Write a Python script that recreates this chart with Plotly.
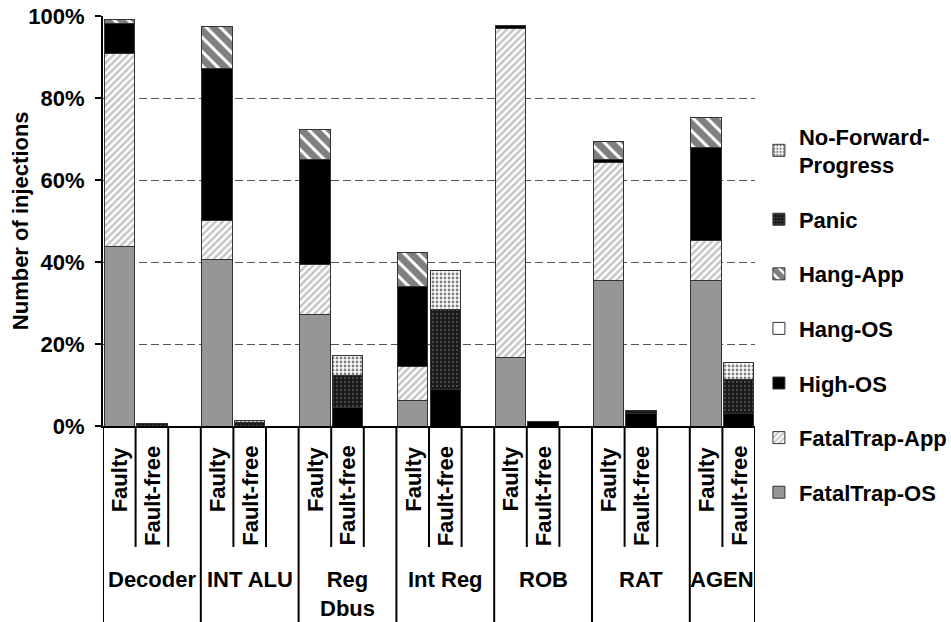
import plotly.graph_objects as go

# Hardware structures (top-level x groups); "Reg Dbus" wraps onto two lines
components = ["Decoder", "INT ALU", "Reg<br>Dbus", "Int Reg", "ROB", "RAT", "AGEN"]
runs = ["Faulty", "Fault-free"]

# Share of injections (%) per outcome, one value per component
faulty = {
    "FatalTrap-OS":  [43.7, 40.6, 27.2, 6.1, 16.7, 35.6, 35.4],
    "FatalTrap-App": [47.2, 9.5, 12.1, 8.5, 80.3, 28.7, 9.9],
    "High-OS":       [7.3, 37.0, 25.6, 19.5, 0.8, 0.7, 22.7],
    "Hang-OS":       [0, 0, 0, 0, 0, 0, 0],
    "Hang-App":      [1.0, 10.4, 7.3, 8.3, 0, 4.4, 7.2],
    "Panic":         [0, 0, 0, 0, 0, 0, 0],
    "No-Forward-Progress": [0, 0, 0, 0, 0, 0, 0],
}
fault_free = {
    "FatalTrap-OS":  [0, 0, 0, 0, 0, 0, 0],
    "FatalTrap-App": [0, 0, 0, 0, 0, 0, 0],
    "High-OS":       [0, 0, 4.5, 8.8, 1.2, 3.0, 3.1],
    "Hang-OS":       [0, 0, 0, 0, 0, 0, 0],
    "Hang-App":      [0, 0, 0, 0, 0, 0, 0],
    "Panic":         [0.6, 0.8, 7.7, 19.7, 0, 0.9, 8.3],
    "No-Forward-Progress": [0, 0.5, 4.9, 9.4, 0, 0, 4.0],
}

y_ticks = [0, 20, 40, 60, 80, 100]
y_tick_text = [f"{v}%" for v in y_ticks]
y_title = "Number of injections"

FONT = "Liberation Sans, Arial, sans-serif"
FS = 22
EDGE = "#333333"
bold = dict(family=FONT, size=FS, color="black", weight="bold")

styles = {
    "FatalTrap-OS": dict(color="#969696"),
    "FatalTrap-App": dict(color="white", pattern=dict(shape="/", fgcolor="#8c8c8c",
                                                       bgcolor="white", size=5, solidity=0.5)),
    "High-OS": dict(color="black"),
    "Hang-OS": dict(color="white"),
    "Hang-App": dict(color="white", pattern=dict(shape="\\", fgcolor="black",
                                                  bgcolor="white", size=10, solidity=0.7)),
    "Panic": dict(color="#222222", pattern=dict(shape=".", fgcolor="#9a9a9a",
                                                bgcolor="#1a1a1a", size=4, solidity=0.18)),
    "No-Forward-Progress": dict(color="white", pattern=dict(shape=".", fgcolor="black",
                                                            bgcolor="white", size=4, solidity=0.4)),
}
legend_names = {"No-Forward-Progress": "No-Forward-<br>Progress"}

# Each component occupies three slots: Faulty, Fault-free and a spacer
SLOTS = 3
n_slots = SLOTS * (len(components) - 1) + len(runs)
x_faulty = [SLOTS * g for g in range(len(components))]
x_free = [SLOTS * g + 1 for g in range(len(components))]

fig = go.Figure()
n_series = len(faulty)
for i, name in enumerate(faulty):
    xs = x_faulty + x_free
    ys = faulty[name] + fault_free[name]
    fig.add_trace(go.Bar(
        x=xs, y=ys, name=legend_names.get(name, name), legendgroup=name,
        legendrank=n_series - i,
        marker=dict(line=dict(color=EDGE, width=1), **styles[name]),
    ))

shapes = []
annotations = []
SHORT = -0.295   # separators between run labels
LONG = -0.48     # separators between components
for g, comp in enumerate(components):
    left = SLOTS * g - 0.5
    shapes.append(dict(type="line", xref="x", yref="paper", x0=left, x1=left,
                       y0=0, y1=LONG, line=dict(color="black", width=2)))
    for k, run in enumerate(runs):
        xc = SLOTS * g + k
        shapes.append(dict(type="line", xref="x", yref="paper", x0=xc + 0.5, x1=xc + 0.5,
                           y0=0, y1=LONG if xc + 0.5 >= n_slots - 0.5 else SHORT,
                           line=dict(color="black", width=2)))
        annotations.append(dict(text=run, x=xc, xref="x", y=-0.044, yref="paper",
                                textangle=-90, yanchor="top", xanchor="center",
                                showarrow=False, font=bold))
    right = min(SLOTS * g + 2.5, n_slots - 0.5)
    annotations.append(dict(text=comp, x=(left + right) / 2, xref="x", y=-0.34, yref="paper",
                            yanchor="top", xanchor="center", showarrow=False, font=bold))

# vertical y-axis title, set just left of the tick labels
annotations.append(dict(text=y_title, x=-0.127, xref="paper", y=0.5, yref="paper",
                        textangle=-90, xanchor="center", yanchor="middle",
                        showarrow=False, font=bold))

fig.update_layout(
    width=951, height=622,
    margin=dict(l=103, r=196, t=16, b=196, autoexpand=False),
    barmode="stack", bargap=0.07,
    plot_bgcolor="white", paper_bgcolor="white",
    font=bold,
    shapes=shapes, annotations=annotations,
    legend=dict(x=1.006, xanchor="left", y=0.758, yanchor="top",
                traceorder="grouped", tracegroupgap=23,
                font=bold, bgcolor="rgba(0,0,0,0)"),
    xaxis=dict(range=[-0.5, n_slots - 0.5], showticklabels=False, showgrid=False,
               zeroline=False, showline=True, linecolor="black", linewidth=2, ticks=""),
    yaxis=dict(range=[0, 100], tickvals=y_ticks, ticktext=y_tick_text,
               showgrid=True, gridcolor="#555555", gridwidth=1, griddash="8px,4px",
               zeroline=False, showline=True, linecolor="black", linewidth=2,
               ticks="outside", ticklen=6, tickwidth=2, tickcolor="black",
               ticklabelstandoff=6, tickfont=bold),
)

fig.write_html("out.html")
